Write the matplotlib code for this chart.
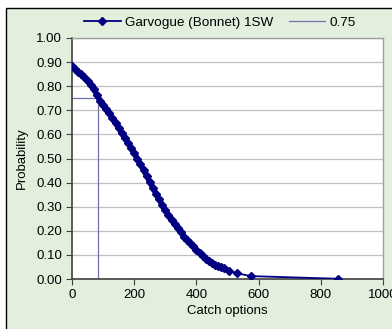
import matplotlib
matplotlib.use("Agg")
import matplotlib.pyplot as plt
from matplotlib.patches import Rectangle

plt.rcParams['font.family'] = ['Liberation Sans', 'DejaVu Sans']

# catch options vs probability
catch = [0, 10, 20, 30, 40, 50, 60, 70, 80, 90, 100, 110, 120, 130, 140, 150,
         160, 170, 180, 190, 200, 210, 220, 230, 240, 250, 260, 270, 280, 290,
         300, 310, 320, 330, 340, 350, 360, 370, 380, 390, 400, 410, 420, 430,
         440, 450, 460, 470, 480, 490, 505, 530, 575, 855]
prob = [0.885, 0.870, 0.860, 0.850, 0.838, 0.822, 0.806, 0.789, 0.762, 0.740,
        0.722, 0.706, 0.688, 0.668, 0.646, 0.627, 0.604, 0.584, 0.564, 0.545,
        0.522, 0.499, 0.476, 0.452, 0.428, 0.402, 0.378, 0.353, 0.331, 0.306,
        0.285, 0.264, 0.245, 0.228, 0.210, 0.193, 0.176, 0.162, 0.148, 0.135,
        0.121, 0.108, 0.096, 0.084, 0.073, 0.066, 0.060, 0.056, 0.050, 0.045,
        0.035, 0.024, 0.012, 0.001]
n_dense = 46  # points so close together that the markers merge

# reference line at 0.75
ref_x = [0, 85, 85]
ref_y = [0.75, 0.75, 0.0]

fig = plt.figure(figsize=(3.92, 3.29), dpi=100, facecolor='white')
# green chart area with black border
fig.patches.append(Rectangle((6 / 392, -0.05), 1.0, 1 - 8 / 329 + 0.05,
                             transform=fig.transFigure, facecolor='#e2efdd',
                             edgecolor='black', linewidth=1.0, zorder=-5))

ax = fig.add_axes([72 / 392, 1 - 279 / 329, (383 - 72) / 392, (279 - 38) / 329])
ax.set_facecolor('white')

ax.plot(catch, prob, color='#000080', lw=1.3, marker='D', markersize=4,
        label='Garvogue (Bonnet) 1SW', zorder=3)
# dense part drawn as a thick band
ax.plot(catch[:n_dense], prob[:n_dense], color='#000080', lw=3.8,
        solid_capstyle='round', zorder=3)
ax.plot(ref_x, ref_y, color='#7070b0', lw=0.9, label='0.75', zorder=2)

ax.set_xlim(0, 1000)
ax.set_ylim(0, 1.0)
ax.set_xticks([0, 200, 400, 600, 800, 1000])
ax.set_yticks([i / 10 for i in range(11)])
ax.set_yticklabels(['%.2f' % (i / 10) for i in range(11)])
ax.tick_params(labelsize=9.5, length=4, color='#404040', pad=3)
ax.yaxis.grid(True, color='#c0c0c0', lw=0.9)
ax.set_axisbelow(True)

for s in ['left', 'bottom']:
    ax.spines[s].set_color('#404040')
    ax.spines[s].set_linewidth(1.2)
for s in ['top', 'right']:
    ax.spines[s].set_color('#a0a0a0')
    ax.spines[s].set_linewidth(1.0)

ax.set_xlabel('Catch options', fontsize=9.5, labelpad=3)
ax.set_ylabel('Probability', fontsize=9.5, labelpad=6)

fig.legend(loc='center', bbox_to_anchor=(220 / 392, 1 - 23 / 329), ncol=2,
           frameon=False, fontsize=9.7, handlelength=2.7, columnspacing=1.2,
           handletextpad=0.3)

fig.savefig('out.png', dpi=100, facecolor=fig.get_facecolor())
